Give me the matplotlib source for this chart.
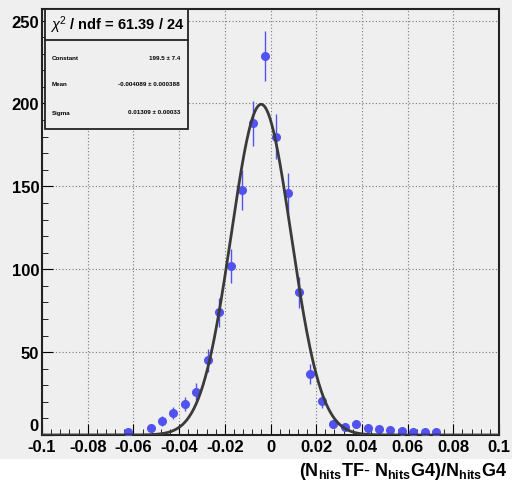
import numpy as np
import matplotlib
matplotlib.use("Agg")
import matplotlib.pyplot as plt
from matplotlib.patches import Rectangle
from matplotlib.ticker import MultipleLocator

plt.rcParams['font.family'] = ['Liberation Sans', 'DejaVu Sans']
plt.rcParams['mathtext.fontset'] = 'custom'
plt.rcParams['mathtext.rm'] = 'Liberation Sans'
plt.rcParams['mathtext.bf'] = 'Liberation Sans:bold'
plt.rcParams['mathtext.it'] = 'Liberation Sans:italic'

# histogram bins (centres) and contents
bin_centres = [-0.0625, -0.0525, -0.0475, -0.0425, -0.0375, -0.0325, -0.0275,
               -0.0225, -0.0175, -0.0125, -0.0075, -0.0025, 0.0025, 0.0075,
               0.0125, 0.0175, 0.0225, 0.0275, 0.0325, 0.0375, 0.0425,
               0.0475, 0.0525, 0.0575, 0.0625, 0.0675, 0.0725]
counts = [2, 4, 8.6, 13, 18.6, 26, 45,
          74, 102, 148, 188, 228.5, 180, 146,
          86, 37, 20.6, 6.5, 5, 6.5, 4,
          3.5, 3, 2.5, 2, 2, 2]

# gaussian fit parameters (from the stats box)
fit_const = 199.5
fit_mean = -0.004089
fit_sigma = 0.01309

stat_rows = [("Constant", "199.5 \u00b1 7.4"),
             ("Mean", "-0.004089 \u00b1 0.000388"),
             ("Sigma", "0.01309 \u00b1 0.00033")]

xtick_labels = ['-0.1', '-0.08', '-0.06', '-0.04', '-0.02', '0',
                '0.02', '0.04', '0.06', '0.08', '0.1']
ytick_values = [0, 50, 100, 150, 200, 250]

W, H = 512, 489
fig = plt.figure(figsize=(W / 100, H / 100), dpi=100, facecolor='white')
fig.patches.append(Rectangle((0, 1 - 460 / H), 1, 460 / H, transform=fig.transFigure,
                             facecolor='#efefef', edgecolor='none', zorder=-10))

ax = fig.add_axes([42 / W, 1 - 436 / H, (499 - 42) / W, (436 - 10) / H])
ax.set_facecolor('#efefef')

x = np.array(bin_centres)
y = np.array(counts)
ax.errorbar(x, y, yerr=np.sqrt(y), fmt='o', color='#5252f0', ms=5.5,
            elinewidth=1, capsize=0, zorder=3)

xf = np.linspace(-0.1, 0.1, 600)
ax.plot(xf, fit_const * np.exp(-0.5 * ((xf - fit_mean) / fit_sigma) ** 2),
        color='#3a3a3a', lw=2, zorder=4)

ax.set_xlim(-0.1, 0.1)
ax.set_ylim(0, 257)
ax.xaxis.set_minor_locator(MultipleLocator(0.004))
ax.yaxis.set_minor_locator(MultipleLocator(10))
ax.set_xticks(np.arange(-0.1, 0.1001, 0.02))
ax.set_xticklabels(xtick_labels, fontweight='bold')
ax.set_yticks(ytick_values)
# the "0" of the y axis is drawn on its own, a little higher, as in the reference
ax.set_yticklabels([''] + [str(v) for v in ytick_values[1:]], fontweight='bold')
ax.tick_params(which='both', direction='in', labelsize=12)
ax.tick_params(which='major', length=8)
ax.tick_params(which='minor', length=4)
ax.tick_params(axis='x', pad=3)
ax.tick_params(axis='y', pad=2)
fig.text(38 / W, 1 - 427 / H, '0', fontsize=12, fontweight='bold',
         ha='right', va='center')
ax.grid(True, which='major', linestyle=(0, (1, 2)), color='#777777', lw=0.8)
for s in ax.spines.values():
    s.set_linewidth(1.5)
    s.set_color('#222222')

# stats box
bx0, bx1, by0, by1 = 45 / W, 188 / W, 1 - 130 / H, 1 - 10 / H
ysep = 1 - 41 / H
fig.patches.append(Rectangle((bx0, by0), bx1 - bx0, by1 - by0, transform=fig.transFigure,
                             facecolor='#efefef', edgecolor='#222222', lw=1.3, zorder=5))
fig.lines.append(plt.Line2D([bx0, bx1], [ysep, ysep], transform=fig.transFigure,
                            color='#222222', lw=1.3, zorder=6))
fig.text(50 / W, 1 - 25 / H, r"$\chi^2$ / ndf = 61.39 / 24", fontsize=10.5,
         fontweight='bold', va='center', ha='left', zorder=7)
row_y = [58, 85, 113]
for (name, val), ry in zip(stat_rows, row_y):
    fig.text(52 / W, 1 - ry / H, name, fontsize=4.5, fontweight='bold',
             va='center', ha='left', zorder=7)
    fig.text(180 / W, 1 - ry / H, val, fontsize=4.5, fontweight='bold',
             va='center', ha='right', zorder=7)

fig.text(507 / W, 1 - 472 / H,
         r"$\mathbf{(N_{hits}TF\text{- }N_{hits}G4)/N_{hits}G4}$",
         fontsize=13, ha='right', va='center')

fig.savefig('out.png', dpi=100, facecolor=fig.get_facecolor())
